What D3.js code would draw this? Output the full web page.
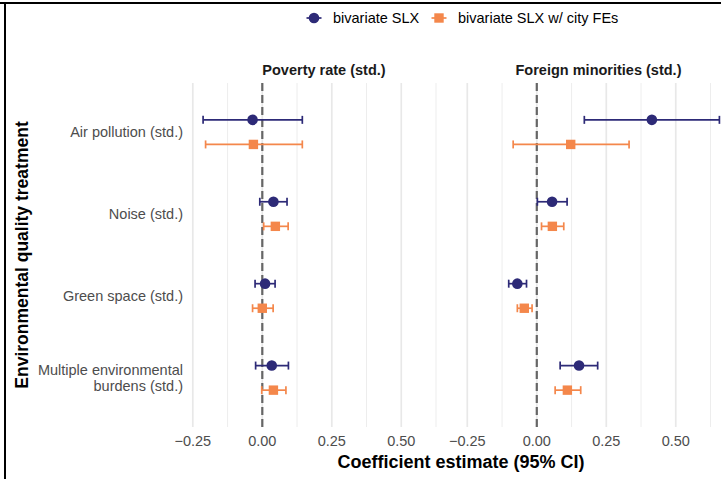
<!DOCTYPE html>
<html><head><meta charset="utf-8">
<script src="https://cdn.jsdelivr.net/npm/d3@7"></script>
<style>body{margin:0;background:#fff}svg{display:block;font-family:"Liberation Sans",Arial,sans-serif}</style>
</head><body><svg id="c" width="721" height="479"></svg>
<script>
const categories = ["Air pollution (std.)", "Noise (std.)", "Green space (std.)", "Multiple environmental\nburdens (std.)"];
const facets = ["Poverty rate (std.)", "Foreign minorities (std.)"];
const models = ["bivariate SLX", "bivariate SLX w/ city FEs"];
const colors = ["#2D2A77", "#F4874B"];
const xTicks = [-0.25, 0, 0.25, 0.5];
const xMinor = [-0.125, 0.125, 0.375, 0.625];
// estimates [facet][category]
const estSLX   = [[-0.035, 0.040, 0.010, 0.034], [0.414, 0.055, -0.070, 0.152]];
const loSLX    = [[-0.213, -0.009, -0.026, -0.024], [0.171, 0.002, -0.101, 0.084]];
const hiSLX    = [[0.144, 0.089, 0.046, 0.094], [0.657, 0.109, -0.037, 0.219]];
const estFE    = [[-0.032, 0.047, 0.000, 0.040], [0.122, 0.056, -0.045, 0.110]];
const loFE     = [[-0.204, 0.005, -0.035, -0.002], [-0.085, 0.017, -0.070, 0.066]];
const hiFE     = [[0.144, 0.093, 0.039, 0.085], [0.332, 0.097, -0.017, 0.158]];

(function(){
const svg = d3.select("#c");
svg.append("rect").attr("x",0).attr("y",2).attr("width",721).attr("height",2).attr("fill","#000");
svg.append("rect").attr("x",4).attr("y",2).attr("width",2).attr("height",477).attr("fill","#000");

const rows = [];
const series = [[estSLX, loSLX, hiSLX], [estFE, loFE, hiFE]];
series.forEach((s, m) => facets.forEach((f, fi) => categories.forEach((c, ci) => {
  rows.push({model:m, facet:fi, cat:c, est:s[0][fi][ci], lo:s[1][fi][ci], hi:s[2][fi][ci]});
})));

const allVals = rows.flatMap(r => [r.lo, r.hi]);
const mn = d3.min(allVals), mx = d3.max(allVals), ex = (mx - mn) * 0.05;
const panelW = 266, panelGap = 8.5, panelX0 = 191;
const yTop = 83, yBot = 427;
const y = d3.scalePoint().domain(categories).range([yTop, yBot]).padding(0.6);
const dodge = y.step() * 0.15;

facets.forEach((f, fi) => {
  const x0 = panelX0 + fi * (panelW + panelGap);
  const x = d3.scaleLinear().domain([mn - ex, mx + ex]).range([x0, x0 + panelW]);
  const g = svg.append("g");
  g.selectAll(".mn").data(xMinor).join("line")
    .attr("x1", d => x(d)).attr("x2", d => x(d)).attr("y1", yTop).attr("y2", yBot)
    .attr("stroke", "#ebebeb").attr("stroke-width", 0.9);
  g.selectAll(".mj").data(xTicks).join("line")
    .attr("x1", d => x(d)).attr("x2", d => x(d)).attr("y1", yTop).attr("y2", yBot)
    .attr("stroke", "#e8e8e8").attr("stroke-width", 1.7);
  g.append("line").attr("x1", x(0)).attr("x2", x(0)).attr("y1", yTop).attr("y2", yBot)
    .attr("stroke", "#666").attr("stroke-width", 2.2).attr("stroke-dasharray", "8,4");
  g.selectAll(".tl").data(xTicks).join("text")
    .attr("x", d => x(d)).attr("y", 445.5).attr("text-anchor", "middle")
    .attr("font-size", 14.5).attr("fill", "#4d4d4d")
    .text(d => d3.format(".2f")(d).replace("-", "\u2212"));
  g.append("text").attr("x", x0 + panelW/2).attr("y", 75).attr("text-anchor", "middle")
    .attr("font-size", 14.5).attr("font-weight", "bold").attr("fill", "#1a1a1a").text(f);
  const d = rows.filter(r => r.facet === fi);
  const yy = r => y(r.cat) + (r.model === 0 ? -dodge : dodge);
  const eb = g.selectAll(".eb").data(d).join("g");
  eb.append("line").attr("x1", r => x(r.lo)).attr("x2", r => x(r.hi)).attr("y1", yy).attr("y2", yy)
    .attr("stroke", r => colors[r.model]).attr("stroke-width", 1.7);
  eb.append("line").attr("x1", r => x(r.lo)).attr("x2", r => x(r.lo)).attr("y1", r => yy(r)-4).attr("y2", r => yy(r)+4)
    .attr("stroke", r => colors[r.model]).attr("stroke-width", 1.7);
  eb.append("line").attr("x1", r => x(r.hi)).attr("x2", r => x(r.hi)).attr("y1", r => yy(r)-4).attr("y2", r => yy(r)+4)
    .attr("stroke", r => colors[r.model]).attr("stroke-width", 1.7);
  g.selectAll(".pt").data(d.filter(r => r.model === 0)).join("circle")
    .attr("cx", r => x(r.est)).attr("cy", yy).attr("r", 5.3).attr("fill", colors[0]);
  g.selectAll(".sq").data(d.filter(r => r.model === 1)).join("rect")
    .attr("x", r => x(r.est) - 4.7).attr("y", r => yy(r) - 4.7).attr("width", 9.4).attr("height", 9.4).attr("fill", colors[1]);
});

categories.forEach(c => {
  const lines = c.split("\n");
  const t = svg.append("text").attr("text-anchor", "end").attr("font-size", 14.5).attr("fill", "#4d4d4d");
  lines.forEach((l, i) => t.append("tspan").attr("x", 183)
    .attr("y", y(c) + 5 + (i - (lines.length-1)/2) * 16.5).text(l));
});

svg.append("text").attr("x", 461).attr("y", 468).attr("text-anchor", "middle")
  .attr("font-size", 18).attr("font-weight", "bold").attr("fill", "#000").text("Coefficient estimate (95% CI)");
svg.append("text").attr("transform", `translate(28,${(yTop+yBot)/2}) rotate(-90)`).attr("text-anchor", "middle")
  .attr("font-size", 17.5).attr("font-weight", "bold").attr("fill", "#000").text("Environmental quality treatment");

const lg = svg.append("g");
const keys = [{x: 314, label: models[0]}, {x: 439, label: models[1]}];
keys.forEach((k, i) => {
  lg.append("line").attr("x1", k.x - 7.5).attr("x2", k.x + 7.5).attr("y1", 18).attr("y2", 18)
    .attr("stroke", colors[i]).attr("stroke-width", 1.7);
  if (i === 0) lg.append("circle").attr("cx", k.x).attr("cy", 18).attr("r", 5.3).attr("fill", colors[0]);
  else lg.append("rect").attr("x", k.x - 4.7).attr("y", 13.3).attr("width", 9.4).attr("height", 9.4).attr("fill", colors[1]);
  lg.append("text").attr("x", k.x + 19).attr("y", 23).attr("font-size", 14.5).attr("fill", "#000").text(k.label);
});
})();
</script></body></html>
